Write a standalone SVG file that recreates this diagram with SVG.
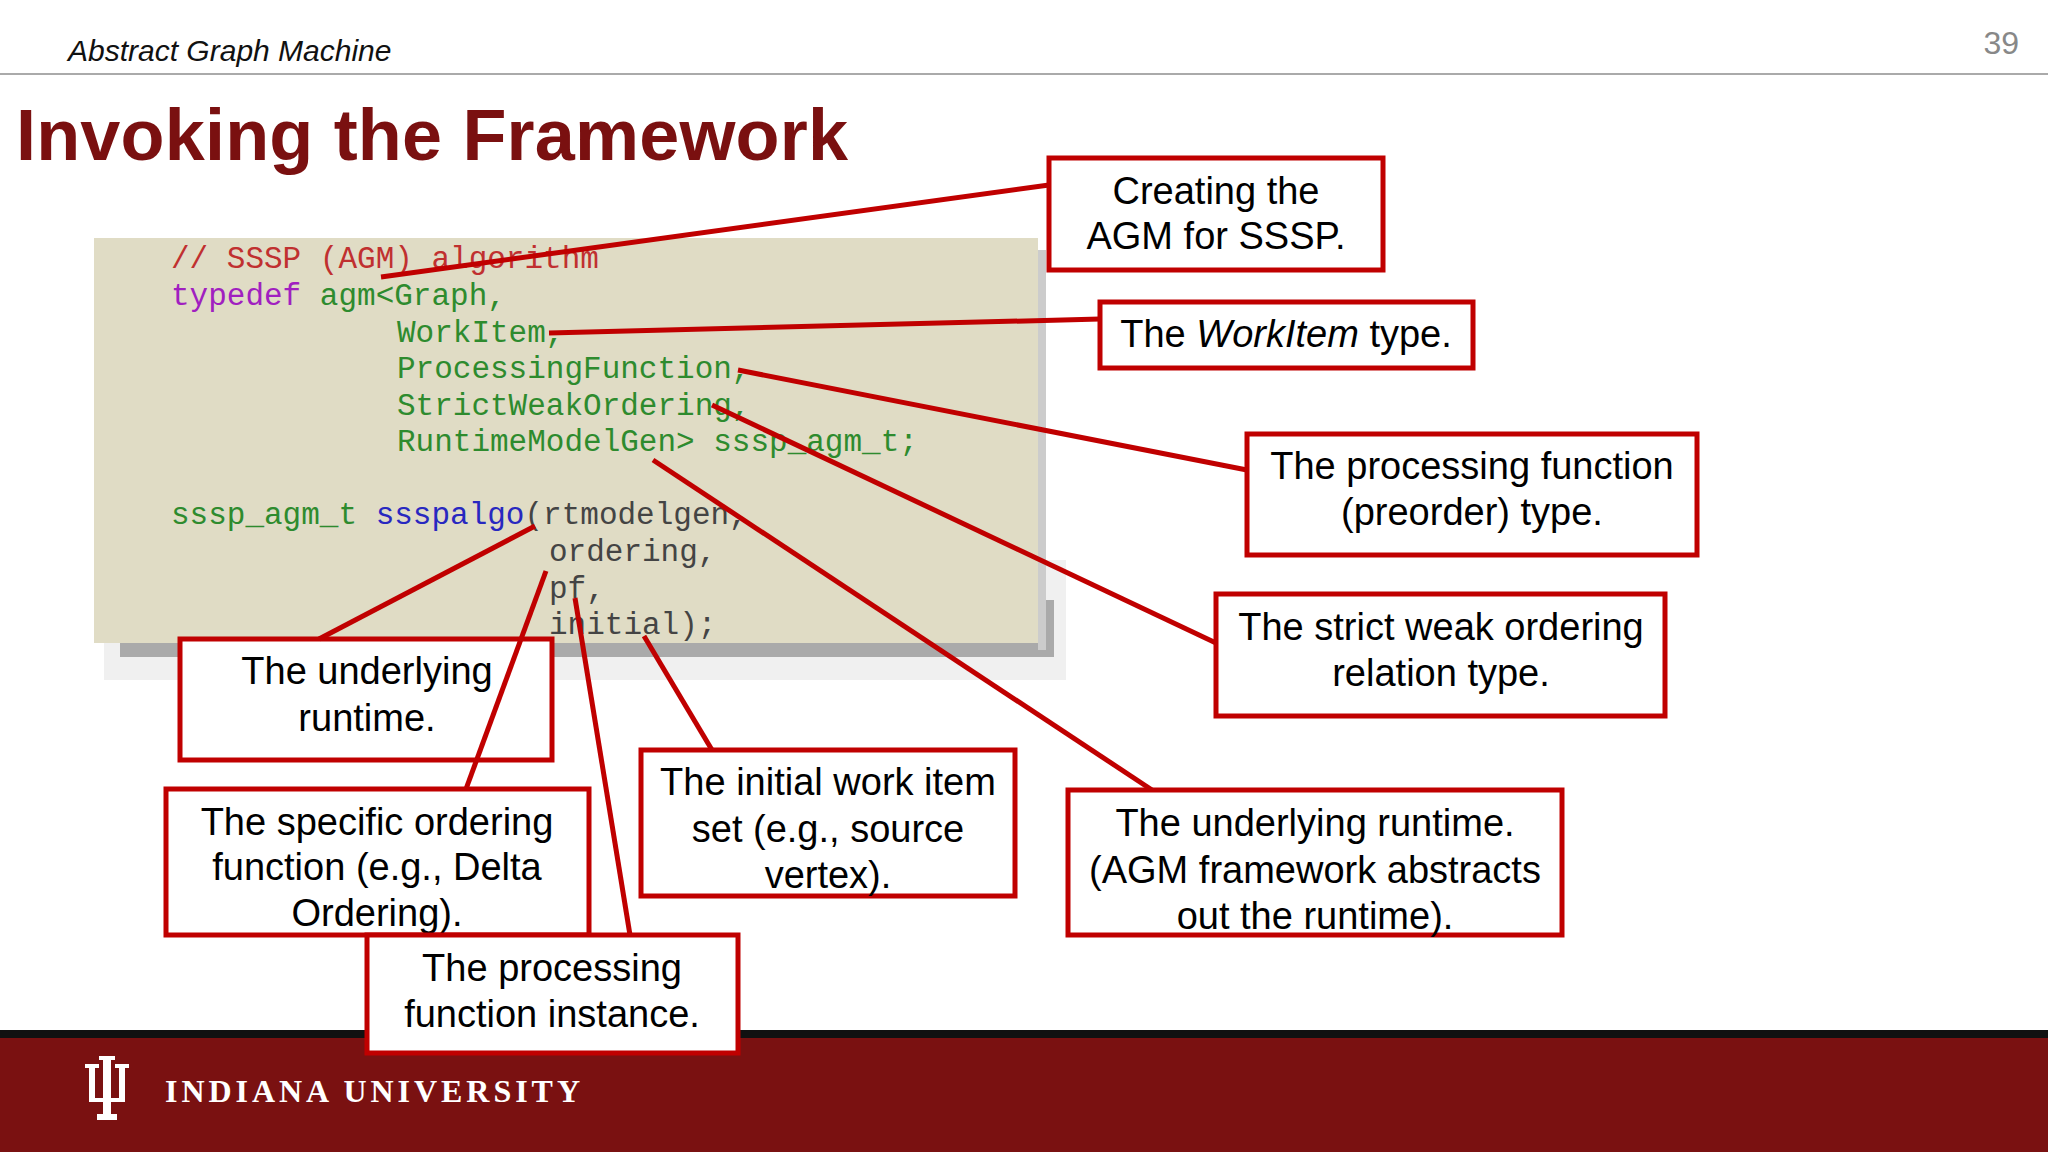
<svg xmlns="http://www.w3.org/2000/svg" width="2048" height="1152" viewBox="0 0 2048 1152">
<style>
.box{fill:#fff;stroke:#c00000;stroke-width:5}
.lbl{font-family:"Liberation Sans",Arial,sans-serif;font-size:38px;fill:#000;text-anchor:middle}
.code{font-family:"Liberation Mono","Courier New",monospace;font-size:31px;white-space:pre}
.c{fill:#c03030}.k{fill:#a020c0}.g{fill:#2e8b2e}.b{fill:#2828c0}.d{fill:#444}
#connectors line{stroke:#c00000;stroke-width:5}
</style>
<rect width="2048" height="1152" fill="#fff"/>
<text x="68" y="61" font-family="Liberation Sans,Arial,sans-serif" font-style="italic" font-size="30" fill="#111">Abstract Graph Machine</text>
<text x="2019" y="54" font-family="Liberation Sans,Arial,sans-serif" font-size="32" fill="#888" text-anchor="end">39</text>
<line x1="0" y1="74" x2="2048" y2="74" stroke="#aaa" stroke-width="2"/>
<text x="16" y="160" font-family="Liberation Sans,Arial,sans-serif" font-weight="bold" font-size="72" fill="#7a1010" textLength="832">Invoking the Framework</text>
<g id="code">
<rect x="104" y="560" width="962" height="120" fill="#f0f0f0"/>
<rect x="120" y="600" width="934" height="57" fill="#aaa"/>
<rect x="1038" y="250" width="8" height="400" fill="#ccc"/>
<rect x="94" y="238" width="944" height="405" fill="#e0dcc5"/>
<text class="code" x="171" y="268"><tspan class="c">// SSSP (AGM) algorithm</tspan></text>
<text class="code" x="171" y="305"><tspan class="k">typedef</tspan><tspan class="g"> agm&lt;Graph,</tspan></text>
<text class="code g" x="397" y="342">WorkItem,</text>
<text class="code g" x="397" y="378">ProcessingFunction,</text>
<text class="code g" x="397" y="415">StrictWeakOrdering,</text>
<text class="code g" x="397" y="451">RuntimeModelGen&gt; sssp_agm_t;</text>
<text class="code" x="171" y="524"><tspan class="g">sssp_agm_t </tspan><tspan class="b">ssspalgo</tspan><tspan class="d">(rtmodelgen,</tspan></text>
<text class="code d" x="549" y="561">ordering,</text>
<text class="code d" x="549" y="598">pf,</text>
<text class="code d" x="549" y="634">initial);</text>
</g>
<g id="footer">
<rect x="0" y="1030" width="2048" height="8" fill="#111"/>
<rect x="0" y="1038" width="2048" height="114" fill="#7a1111"/>
<path d="M85 1064h14v4h-4v30h8v-38h-4v-4h16v4h-4v38h8v-30h-4v-4h14v4h-4v34h-14v12h6v6h-20v-6h6v-12h-14v-34h-4z" fill="#fff"/>
<text x="165" y="1102" font-family="Liberation Serif,serif" font-weight="bold" font-size="32" fill="#fff" textLength="415">INDIANA UNIVERSITY</text>
</g>
<g id="n1"><rect class="box" x="1049" y="158" width="334" height="112"/><text class="lbl" x="1216" y="204">Creating the</text><text class="lbl" x="1216" y="249">AGM for SSSP.</text></g>
<g id="n2"><rect class="box" x="1100" y="302" width="373" height="66"/><text class="lbl" x="1286" y="347">The <tspan font-style="italic">WorkItem</tspan> type.</text></g>
<g id="n3"><rect class="box" x="1247" y="434" width="450" height="121"/><text class="lbl" x="1472" y="479">The processing function</text><text class="lbl" x="1472" y="525">(preorder) type.</text></g>
<g id="n4"><rect class="box" x="1216" y="594" width="449" height="122"/><text class="lbl" x="1441" y="640">The strict weak ordering</text><text class="lbl" x="1441" y="686">relation type.</text></g>
<g id="n5"><rect class="box" x="1068" y="790" width="494" height="145"/><text class="lbl" x="1315" y="836">The underlying runtime.</text><text class="lbl" x="1315" y="883">(AGM framework abstracts</text><text class="lbl" x="1315" y="929">out the runtime).</text></g>
<g id="n6"><rect class="box" x="641" y="750" width="374" height="146"/><text class="lbl" x="828" y="795">The initial work item</text><text class="lbl" x="828" y="842">set (e.g., source</text><text class="lbl" x="828" y="888">vertex).</text></g>
<g id="n7"><rect class="box" x="180" y="639" width="372" height="121"/><text class="lbl" x="367" y="684">The underlying</text><text class="lbl" x="367" y="731">runtime.</text></g>
<g id="n8"><rect class="box" x="166" y="789" width="423" height="146"/><text class="lbl" x="377" y="835">The specific ordering</text><text class="lbl" x="377" y="880">function (e.g., Delta</text><text class="lbl" x="377" y="926">Ordering).</text></g>
<g id="n9"><rect class="box" x="367" y="935" width="371" height="118"/><text class="lbl" x="552" y="981">The processing</text><text class="lbl" x="552" y="1027">function instance.</text></g>
<g id="connectors">
<line x1="381" y1="277" x2="1049" y2="185"/>
<line x1="549" y1="333" x2="1100" y2="319"/>
<line x1="738" y1="370" x2="1247" y2="470"/>
<line x1="712" y1="405" x2="1216" y2="643"/>
<line x1="653" y1="460" x2="1152" y2="790"/>
<line x1="535" y1="526" x2="319" y2="639"/>
<line x1="546" y1="571" x2="466" y2="789"/>
<line x1="575" y1="598" x2="630" y2="935"/>
<line x1="644" y1="636" x2="712" y2="750"/>
</g>
</svg>
